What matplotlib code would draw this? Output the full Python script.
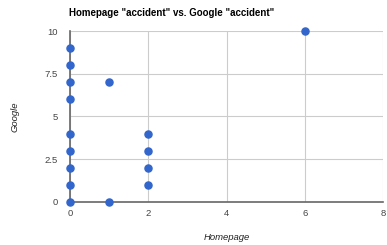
import matplotlib
matplotlib.use("Agg")
import matplotlib.pyplot as plt

# data
homepage = [0, 0, 0, 0, 0, 0, 0, 0, 0, 1, 1, 2, 2, 2, 2, 6]
google = [0, 1, 2, 3, 4, 6, 7, 8, 9, 7, 0, 1, 2, 3, 4, 10]
x_ticks = [0, 2, 4, 6, 8]
y_ticks = [0, 2.5, 5, 7.5, 10]
y_labels = ["0", "2.5", "5", "7.5", "10"]

plt.rcParams["font.family"] = ["Liberation Sans", "DejaVu Sans"]

fig = plt.figure(figsize=(3.87, 2.45), dpi=100)
ax = fig.add_axes([0.181, 0.176, 0.809, 0.697])

ax.scatter(homepage, google, s=26, color="#3366cc", zorder=3, clip_on=False)

ax.set_xlim(0, 8)
ax.set_ylim(0, 10)
ax.set_xticks(x_ticks)
ax.set_yticks(y_ticks)
ax.set_yticklabels(y_labels)
ax.grid(True, color="#cccccc", linewidth=0.8)
ax.set_axisbelow(True)
for s in ["top", "right"]:
    ax.spines[s].set_visible(False)
for s in ["left", "bottom"]:
    ax.spines[s].set_color("#666666")
    ax.spines[s].set_linewidth(1.2)
ax.tick_params(length=0, labelsize=6.8, labelcolor="#444444")
ax.tick_params(axis="y", pad=9)
ax.tick_params(axis="x", pad=5)

ax.set_xlabel("Homepage", fontsize=6.8, style="italic", color="#222222", labelpad=11)
ax.set_ylabel("Google", fontsize=6.8, style="italic", color="#222222", labelpad=18)
fig.text(0.178, 0.945, 'Homepage "accident" vs. Google "accident"', fontsize=7,
         fontweight="bold", ha="left", va="center")

fig.savefig("out.png", dpi=100)
plt.close(fig)
